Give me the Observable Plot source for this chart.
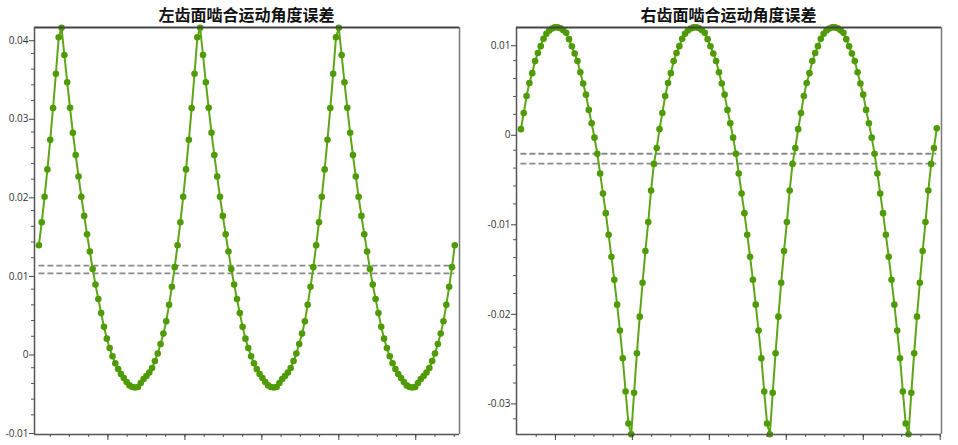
<!DOCTYPE html>
<html><head><meta charset="utf-8">
<script src="https://cdn.jsdelivr.net/npm/d3@7"></script>
<script src="https://cdn.jsdelivr.net/npm/@observablehq/plot@0.6"></script>
<style>
body{margin:0;background:#fff;}
#wrap{position:relative;width:958px;height:445px;overflow:hidden;}
.panel{position:absolute;top:0;width:479px;height:445px;}
.title{height:23px;box-sizing:border-box;font-family:"Noto Sans CJK SC","Noto Sans",sans-serif;font-weight:bold;font-size:16px;line-height:23px;text-align:center;color:#111;position:relative;top:3px;}
svg{overflow:visible;}
</style>
</head><body>
<div id="wrap"><div class="panel" id="left" style="left:0"></div><div class="panel" id="right" style="left:479px"></div></div>
<script>
const titles = ["左齿面啮合运动角度误差", "右齿面啮合运动角度误差"];

const leftValues = [
 0.01359, 0.01652, 0.01975, 0.02324, 0.02701, 0.03104, 0.03541, 0.04005, 0.04127, 0.03780,
 0.03432, 0.03108, 0.02790, 0.02506, 0.02234, 0.01975, 0.01732, 0.01499, 0.01279, 0.01057,
 0.00858, 0.00675, 0.00495, 0.00320, 0.00170, 0.00051, -0.00055, -0.00144, -0.00217, -0.00280,
 -0.00331, -0.00382, -0.00425, -0.00446, -0.00452, -0.00446, -0.00395, -0.00344, -0.00306, -0.00262,
 -0.00204, -0.00115, -0.00020, 0.00102, 0.00234, 0.00390, 0.00600, 0.00830, 0.01080,
 0.01359, 0.01652, 0.01975, 0.02324, 0.02701, 0.03104, 0.03541, 0.04005, 0.04127, 0.03780,
 0.03432, 0.03108, 0.02790, 0.02506, 0.02234, 0.01975, 0.01732, 0.01499, 0.01279, 0.01057,
 0.00858, 0.00675, 0.00495, 0.00320, 0.00170, 0.00051, -0.00055, -0.00144, -0.00217, -0.00280,
 -0.00331, -0.00382, -0.00425, -0.00446, -0.00452, -0.00446, -0.00395, -0.00344, -0.00306, -0.00262,
 -0.00204, -0.00115, -0.00020, 0.00102, 0.00234, 0.00390, 0.00600, 0.00830, 0.01080,
 0.01359, 0.01652, 0.01975, 0.02324, 0.02701, 0.03104, 0.03541, 0.04005, 0.04127, 0.03780,
 0.03432, 0.03108, 0.02790, 0.02506, 0.02234, 0.01975, 0.01732, 0.01499, 0.01279, 0.01057,
 0.00858, 0.00675, 0.00495, 0.00320, 0.00170, 0.00051, -0.00055, -0.00144, -0.00217, -0.00280,
 -0.00331, -0.00382, -0.00425, -0.00446, -0.00452, -0.00446, -0.00395, -0.00344, -0.00306, -0.00262,
 -0.00204, -0.00115, -0.00020, 0.00102, 0.00234, 0.00390, 0.00600, 0.00830, 0.01080,
 0.01359
];

const rightValues = [
 0.00035, 0.00215, 0.00405, 0.00550, 0.00660, 0.00795, 0.00885, 0.00962, 0.01045, 0.01100,
 0.01137, 0.01159, 0.01171, 0.01171, 0.01162, 0.01140, 0.01110, 0.01040, 0.00960, 0.00880,
 0.00795, 0.00670, 0.00545, 0.00420, 0.00250, 0.00100, -0.00060, -0.00240, -0.00460, -0.00683,
 -0.00903, -0.01145, -0.01390, -0.01647, -0.01925, -0.02215, -0.02523, -0.02895, -0.03252, -0.03372,
 -0.02910, -0.02467, -0.02059, -0.01680, -0.01327, -0.01003, -0.00650, -0.00353, -0.00175,
 0.00035, 0.00215, 0.00405, 0.00550, 0.00660, 0.00795, 0.00885, 0.00962, 0.01045, 0.01100,
 0.01137, 0.01159, 0.01171, 0.01171, 0.01162, 0.01140, 0.01110, 0.01040, 0.00960, 0.00880,
 0.00795, 0.00670, 0.00545, 0.00420, 0.00250, 0.00100, -0.00060, -0.00240, -0.00460, -0.00683,
 -0.00903, -0.01145, -0.01390, -0.01647, -0.01925, -0.02215, -0.02523, -0.02895, -0.03252, -0.03372,
 -0.02910, -0.02467, -0.02059, -0.01680, -0.01327, -0.01003, -0.00650, -0.00353, -0.00175,
 0.00035, 0.00215, 0.00405, 0.00550, 0.00660, 0.00795, 0.00885, 0.00962, 0.01045, 0.01100,
 0.01137, 0.01159, 0.01171, 0.01171, 0.01162, 0.01140, 0.01110, 0.01040, 0.00960, 0.00880,
 0.00795, 0.00670, 0.00545, 0.00420, 0.00250, 0.00100, -0.00060, -0.00240, -0.00460, -0.00683,
 -0.00903, -0.01145, -0.01390, -0.01647, -0.01925, -0.02215, -0.02523, -0.02895, -0.03252, -0.03372,
 -0.02910, -0.02467, -0.02059, -0.01680, -0.01327, -0.01003, -0.00650, -0.00353, -0.00175,
 0.00045
];

const leftRefLines = [0.0110, 0.0100];
const rightRefLines = [-0.0024, -0.0035];

const leftYMajor = [-0.01, 0, 0.01, 0.02, 0.03, 0.04];
const leftYMinor = [-0.008, -0.006, -0.004, -0.002, 0.002, 0.004, 0.006, 0.008, 0.012, 0.014, 0.016, 0.018,
  0.022, 0.024, 0.026, 0.028, 0.032, 0.034, 0.036, 0.038];
const rightYMajor = [-0.03, -0.02, -0.01, 0, 0.01];
const rightYMinor = [-0.032, -0.028, -0.026, -0.024, -0.022, -0.018, -0.016, -0.014, -0.012,
  -0.008, -0.006, -0.004, -0.002, 0.002, 0.004, 0.006, 0.008];

const leftXTicks = [4.0, 10.8, 17.6, 24.4, 31.2, 38.0, 44.8, 51.6, 58.4, 65.2, 72.0, 78.8, 85.6, 92.4, 99.2,
  106.0, 112.8, 119.6, 126.4, 133.2, 140.0, 146.8];
const leftXMajor = [24.4, 51.6, 78.8, 106.0, 133.2];
const rightXTicks = [5.4, 12.2, 19.0, 25.8, 32.6, 39.4, 46.2, 53.0, 59.8, 66.6, 73.4, 80.2, 87.0, 93.8, 100.6,
  107.4, 114.2, 121.0, 127.8, 134.6, 141.4, 148.2];
const rightXMajor = [12.2, 39.4, 66.6, 93.8, 121.0, 148.2];

const lineColor = "#5ea617";
const dotColor = "#4f9b06";
const fmt = d => d === 0 ? "0" : d.toFixed(2);

function makeChart(el, title, values, refs, yDomain, yMajor, yMinor, xTicks, xMajor, mL, mR) {
  const data = values.map((v, i) => ({i, v}));
  const n = values.length - 1;
  const xDomain = [-1.56, n + 1.66];
  const t = document.createElement("div");
  t.className = "title";
  t.style.paddingLeft = mL + "px";
  t.style.paddingRight = mR + "px";
  t.textContent = title;
  el.appendChild(t);
  const chart = Plot.plot({
    width: 479,
    height: 422,
    marginTop: 4,
    marginBottom: 11,
    marginLeft: mL,
    marginRight: mR,
    style: {fontFamily: "'Open Sans', sans-serif", fontSize: "10px", color: "#333", background: "white", overflow: "visible"},
    x: {domain: xDomain, label: null},
    y: {domain: yDomain, label: null},
    marks: [
      Plot.ruleY(refs, {x1: 0, x2: n, stroke: "#8a8a8a", strokeWidth: 1.8, strokeDasharray: "6,3"}),
      Plot.line(data, {x: "i", y: "v", stroke: lineColor, strokeWidth: 2}),
      Plot.dot(data, {x: "i", y: "v", r: 3.3, fill: dotColor, stroke: null}),
      Plot.ruleY([yDomain[1]], {stroke: "#444", strokeWidth: 2}),
      Plot.ruleX([xDomain[1]], {stroke: "#777", strokeWidth: 1.5}),
      Plot.ruleX([xDomain[0]], {stroke: "#555", strokeWidth: 1.5}),
      Plot.ruleY([yDomain[0]], {stroke: "#555", strokeWidth: 1.5}),
      Plot.axisY(yMajor, {tickSize: 5, tickPadding: 1, tickFormat: fmt, dy: 3, stroke: "#444", label: null}),
      Plot.axisY(yMinor, {tickSize: 3, tickFormat: () => "", stroke: "#555", label: null}),
      Plot.axisX(xTicks, {tickSize: 3, tickFormat: () => "", stroke: "#555", label: null}),
      Plot.axisX(xMajor, {tickSize: 6, tickFormat: () => "", stroke: "#444", label: null})
    ]
  });
  el.appendChild(chart);
}

makeChart(document.getElementById("left"), titles[0], leftValues, leftRefLines, [-0.0105, 0.0413],
  leftYMajor, leftYMinor, leftXTicks, leftXMajor, 34, 20);
makeChart(document.getElementById("right"), titles[1], rightValues, rightRefLines, [-0.03375, 0.0117],
  rightYMajor, rightYMinor, rightXTicks, rightXMajor, 37, 17);
</script>
</body></html>
